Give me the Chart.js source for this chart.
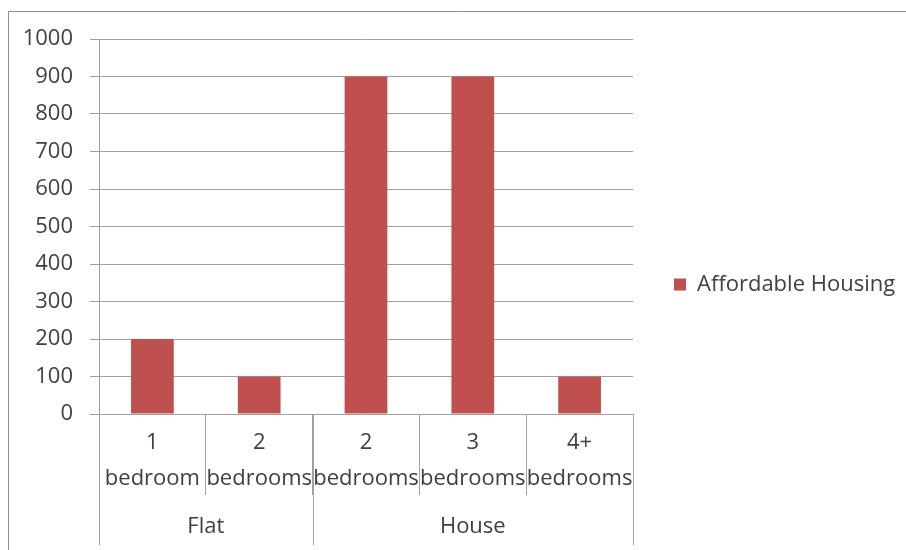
<!DOCTYPE html>
<html>
<head>
<meta charset="utf-8">
<script src="https://cdn.jsdelivr.net/npm/chart.js@4"></script>
<style>
  body { margin: 0; background: #fff; }
  #wrap { width: 906px; height: 550px; }
</style>
</head>
<body>
<div id="wrap"><canvas id="myChart" width="906" height="550"></canvas></div>
<script>
// chart data
var groups = ["Flat", "House"];
var groupSizes = [2, 3];
var categories = [["1", "bedroom"], ["2", "bedrooms"], ["2", "bedrooms"], ["3", "bedrooms"], ["4+", "bedrooms"]];
var housingValues = [200, 100, 900, 900, 100];
var yTicks = [0, 100, 200, 300, 400, 500, 600, 700, 800, 900, 1000];

var gridColor = "#a0a0a0";
var textColor = "#404040";
var fontFamily = "'Open Sans', sans-serif";
var legendWidth = 267;

// outer border + the second row of the category axis (Flat / House)
var groupAxis = {
    id: "groupAxis",
    beforeUpdate: function (chart) {
        // the layout caps side boxes at a quarter of the width, the legend needs more
        var lg = chart.legend;
        if (lg && !lg.widePatched) {
            var fit = lg.fit;
            lg.fit = function () {
                fit.call(this);
                this.width = legendWidth;
            };
            lg.widePatched = true;
        }
    },
    afterDraw: function (chart) {
        var ctx = chart.ctx;
        var x = chart.scales.x;
        var top = chart.chartArea.bottom;
        ctx.save();
        ctx.strokeStyle = "#8c8c8c";
        ctx.lineWidth = 1;
        ctx.beginPath();
        ctx.moveTo(8.5, 560);
        ctx.lineTo(8.5, 11.5);
        ctx.lineTo(920, 11.5);
        ctx.stroke();

        ctx.strokeStyle = gridColor;
        ctx.fillStyle = textColor;
        ctx.font = "22px " + fontFamily;
        ctx.textAlign = "center";
        ctx.textBaseline = "middle";
        var half = (x.getPixelForValue(1) - x.getPixelForValue(0)) / 2;
        var start = 0;
        for (var i = 0; i < groups.length; i++) {
            var left = x.getPixelForValue(start) - half;
            var right = x.getPixelForValue(start + groupSizes[i] - 1) + half;
            ctx.beginPath();
            ctx.moveTo(Math.round(left) + 0.5, top);
            ctx.lineTo(Math.round(left) + 0.5, 545);
            ctx.moveTo(Math.round(right) + 0.5, top);
            ctx.lineTo(Math.round(right) + 0.5, 545);
            ctx.stroke();
            ctx.fillText(groups[i], (left + right) / 2, 527);
            start += groupSizes[i];
        }
        ctx.restore();
    }
};

new Chart("myChart", {
    type: "bar",
    data: {
        labels: categories,
        datasets: [{
            label: "Affordable Housing",
            data: housingValues,
            backgroundColor: "#c0504d",
            borderWidth: 0,
            barPercentage: 0.4,
            categoryPercentage: 1
        }]
    },
    options: {
        responsive: false,
        animation: false,
        layout: { padding: { top: 39, left: 0, right: 6, bottom: 20 } },
        plugins: {
            legend: {
                position: "right",
                labels: {
                    boxWidth: 12,
                    boxHeight: 12,
                    color: textColor,
                    padding: 41,
                    font: { family: fontFamily, size: 22 }
                }
            },
            tooltip: { enabled: false }
        },
        scales: {
            x: {
                offset: true,
                border: { color: gridColor },
                grid: {
                    offset: true,
                    drawOnChartArea: false,
                    color: gridColor,
                    tickLength: 81
                },
                ticks: {
                    color: textColor,
                    padding: -70,
                    maxRotation: 0,
                    autoSkip: false,
                    font: { family: fontFamily, size: 22, lineHeight: 1.64 }
                },
                afterFit: function (scale) { scale.height = 116; }
            },
            y: {
                min: 0,
                max: 1000,
                border: { color: gridColor },
                grid: { color: gridColor, tickLength: 9 },
                afterBuildTicks: function (scale) {
                    scale.ticks = yTicks.map(function (v) { return { value: v }; });
                },
                ticks: {
                    color: textColor,
                    padding: 17,
                    font: { family: fontFamily, size: 22 },
                    callback: function (v) { return String(v); }
                },
                afterFit: function (scale) { scale.width = 99; }
            }
        }
    },
    plugins: [groupAxis]
});
</script>
</body>
</html>
